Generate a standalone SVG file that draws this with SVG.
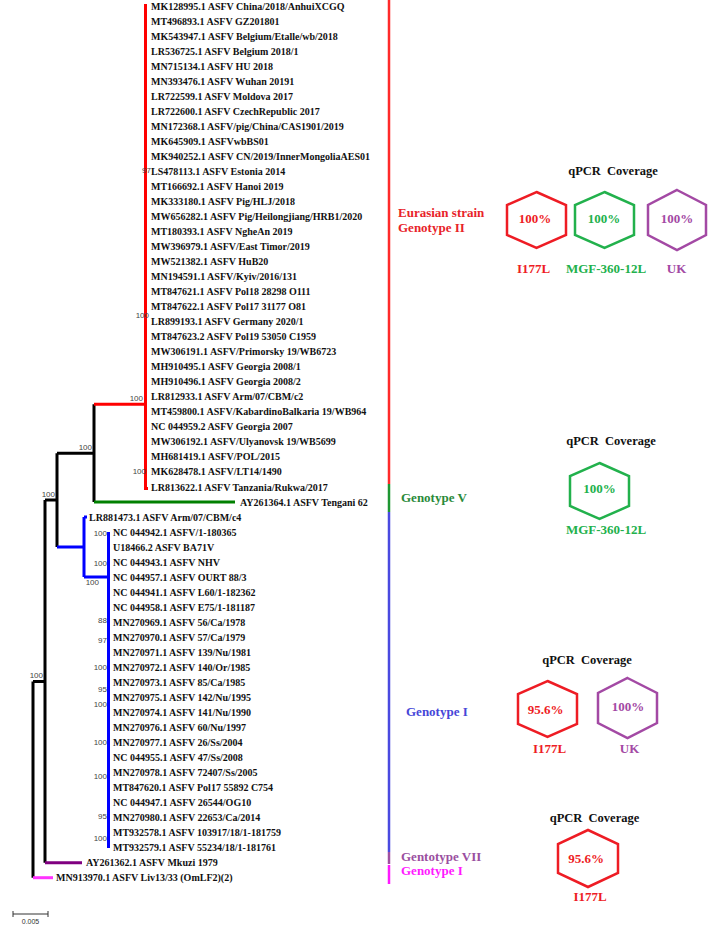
<svg xmlns="http://www.w3.org/2000/svg" width="708" height="925" viewBox="0 0 708 925">
<style>
.lf{font-family:"Liberation Serif","Times New Roman",serif;font-weight:bold;font-size:10px;fill:#111}
.bs{font-family:"Liberation Sans",Arial,sans-serif;font-size:8px;fill:#444;text-anchor:end}
.br{fill:none;stroke-width:3;stroke-linecap:butt}
.k{stroke:#000}.r{stroke:#ff0000}.g{stroke:#008000}.b{stroke:#0000ff}.p{stroke:#800080}.m{stroke:#ff33ff}
.grp{font-family:"Liberation Serif","Times New Roman",serif;font-weight:bold;font-size:13px}
.hd{font-family:"Liberation Serif","Times New Roman",serif;font-weight:bold;font-size:12.5px;fill:#111;text-anchor:middle;white-space:pre}
.pc{font-family:"Liberation Serif","Times New Roman",serif;font-weight:bold;font-size:13px;text-anchor:middle}
.hx{fill:none;stroke-width:2.5}
</style>
<rect width="708" height="925" fill="#fff"/>
<g id="connectors">
<path class="br k" d="M94,404.3V502M94,453.2H57M57,453.2V547M57,500H45M45,500V862.7M45,681.4H33M33,681.4V877.7"/>
<path class="br r" d="M94,404.3H145.5M145.5,4V488.5H148"/>
<path class="br g" d="M94,502H235"/>
<path class="br b" d="M57,547H84M84,517V577M84,517H87M84,577H108.5M108.5,532V848"/>
<path class="br p" d="M45,862.7H82"/>
<path class="br m" d="M33,877.7H53"/>
</g>
<g id="bootstrap">
<text class="bs" x="143" y="401">100</text>
<text class="bs" x="92" y="450">100</text>
<text class="bs" x="55" y="497">100</text>
<text class="bs" x="43" y="678">100</text>
<text class="bs" x="151" y="173">97</text>
<text class="bs" x="149" y="318">100</text>
<text class="bs" x="146" y="474">100</text>
<text class="bs" x="107" y="536">100</text>
<text class="bs" x="107" y="566">100</text>
<text class="bs" x="99" y="585">100</text>
<text class="bs" x="107" y="623">88</text>
<text class="bs" x="107" y="643">97</text>
<text class="bs" x="107" y="670">100</text>
<text class="bs" x="107" y="692">95</text>
<text class="bs" x="107" y="707">100</text>
<text class="bs" x="107" y="745">100</text>
<text class="bs" x="107" y="779">100</text>
<text class="bs" x="107" y="819">95</text>
<text class="bs" x="107" y="841">100</text>
</g>
<g id="leaves">
<text class="lf" x="151" y="9.5">MK128995.1 ASFV China/2018/AnhuiXCGQ</text>
<text class="lf" x="151" y="24.5">MT496893.1 ASFV GZ201801</text>
<text class="lf" x="151" y="39.6">MK543947.1 ASFV Belgium/Etalle/wb/2018</text>
<text class="lf" x="151" y="54.6">LR536725.1 ASFV Belgium 2018/1</text>
<text class="lf" x="151" y="69.6">MN715134.1 ASFV HU 2018</text>
<text class="lf" x="151" y="84.7">MN393476.1 ASFV Wuhan 20191</text>
<text class="lf" x="151" y="99.7">LR722599.1 ASFV Moldova 2017</text>
<text class="lf" x="151" y="114.7">LR722600.1 ASFV CzechRepublic 2017</text>
<text class="lf" x="151" y="129.7">MN172368.1 ASFV/pig/China/CAS1901/2019</text>
<text class="lf" x="151" y="144.8">MK645909.1 ASFVwbBS01</text>
<text class="lf" x="151" y="159.8">MK940252.1 ASFV CN/2019/InnerMongoliaAES01</text>
<text class="lf" x="151" y="174.8">LS478113.1 ASFV Estonia 2014</text>
<text class="lf" x="151" y="189.9">MT166692.1 ASFV Hanoi 2019</text>
<text class="lf" x="151" y="204.9">MK333180.1 ASFV Pig/HLJ/2018</text>
<text class="lf" x="151" y="219.9">MW656282.1 ASFV Pig/Heilongjiang/HRB1/2020</text>
<text class="lf" x="151" y="235">MT180393.1 ASFV NgheAn 2019</text>
<text class="lf" x="151" y="250">MW396979.1 ASFV/East Timor/2019</text>
<text class="lf" x="151" y="265">MW521382.1 ASFV HuB20</text>
<text class="lf" x="151" y="280">MN194591.1 ASFV/Kyiv/2016/131</text>
<text class="lf" x="151" y="295.1">MT847621.1 ASFV Pol18 28298 O111</text>
<text class="lf" x="151" y="310.1">MT847622.1 ASFV Pol17 31177 O81</text>
<text class="lf" x="151" y="325.1">LR899193.1 ASFV Germany 2020/1</text>
<text class="lf" x="151" y="340.2">MT847623.2 ASFV Pol19 53050 C1959</text>
<text class="lf" x="151" y="355.2">MW306191.1 ASFV/Primorsky 19/WB6723</text>
<text class="lf" x="151" y="370.2">MH910495.1 ASFV Georgia 2008/1</text>
<text class="lf" x="151" y="385.3">MH910496.1 ASFV Georgia 2008/2</text>
<text class="lf" x="151" y="400.3">LR812933.1 ASFV Arm/07/CBM/c2</text>
<text class="lf" x="151" y="415.3">MT459800.1 ASFV/KabardinoBalkaria 19/WB964</text>
<text class="lf" x="151" y="430.3">NC 044959.2 ASFV Georgia 2007</text>
<text class="lf" x="151" y="445.4">MW306192.1 ASFV/Ulyanovsk 19/WB5699</text>
<text class="lf" x="151" y="460.4">MH681419.1 ASFV/POL/2015</text>
<text class="lf" x="151" y="475.4">MK628478.1 ASFV/LT14/1490</text>
<text class="lf" x="151" y="490.5">LR813622.1 ASFV Tanzania/Rukwa/2017</text>
<text class="lf" x="240" y="505.5">AY261364.1 ASFV Tengani 62</text>
<text class="lf" x="89" y="520.5">LR881473.1 ASFV Arm/07/CBM/c4</text>
<text class="lf" x="113" y="535.6">NC 044942.1 ASFV/1-180365</text>
<text class="lf" x="113" y="550.6">U18466.2 ASFV BA71V</text>
<text class="lf" x="113" y="565.6">NC 044943.1 ASFV NHV</text>
<text class="lf" x="113" y="580.6">NC 044957.1 ASFV OURT 88/3</text>
<text class="lf" x="113" y="595.7">NC 044941.1 ASFV L60/1-182362</text>
<text class="lf" x="113" y="610.7">NC 044958.1 ASFV E75/1-181187</text>
<text class="lf" x="113" y="625.7">MN270969.1 ASFV 56/Ca/1978</text>
<text class="lf" x="113" y="640.8">MN270970.1 ASFV 57/Ca/1979</text>
<text class="lf" x="113" y="655.8">MN270971.1 ASFV 139/Nu/1981</text>
<text class="lf" x="113" y="670.8">MN270972.1 ASFV 140/Or/1985</text>
<text class="lf" x="113" y="685.9">MN270973.1 ASFV 85/Ca/1985</text>
<text class="lf" x="113" y="700.9">MN270975.1 ASFV 142/Nu/1995</text>
<text class="lf" x="113" y="715.9">MN270974.1 ASFV 141/Nu/1990</text>
<text class="lf" x="113" y="730.9">MN270976.1 ASFV 60/Nu/1997</text>
<text class="lf" x="113" y="746">MN270977.1 ASFV 26/Ss/2004</text>
<text class="lf" x="113" y="761">NC 044955.1 ASFV 47/Ss/2008</text>
<text class="lf" x="113" y="776">MN270978.1 ASFV 72407/Ss/2005</text>
<text class="lf" x="113" y="791.1">MT847620.1 ASFV Pol17 55892 C754</text>
<text class="lf" x="113" y="806.1">NC 044947.1 ASFV 26544/OG10</text>
<text class="lf" x="113" y="821.1">MN270980.1 ASFV 22653/Ca/2014</text>
<text class="lf" x="113" y="836.2">MT932578.1 ASFV 103917/18/1-181759</text>
<text class="lf" x="113" y="851.2">MT932579.1 ASFV 55234/18/1-181761</text>
<text class="lf" x="86" y="866.2">AY261362.1 ASFV Mkuzi 1979</text>
<text class="lf" x="56" y="881.2">MN913970.1 ASFV Liv13/33 (OmLF2)(2)</text>
</g>
<g id="scale">
<path d="M13,914H48M13,911V917M48,911V917" stroke="#333" stroke-width="1" fill="none"/>
<text x="30.5" y="924" font-family="Liberation Sans, Arial, sans-serif" font-size="7" fill="#333" text-anchor="middle">0.005</text>
</g>
<g id="brackets">
<path d="M389,0V484" stroke="#ff2a2a" stroke-width="2.5"/>
<path d="M389,484V512" stroke="#1e9632" stroke-width="2.5"/>
<path d="M389,512V852" stroke="#4a4ae0" stroke-width="2.5"/>
<path d="M389,852V864" stroke="#a050a0" stroke-width="2.5"/>
<path d="M389,865V884" stroke="#ff1aff" stroke-width="2.5"/>
</g>
<g id="group-genotype-II">
<text class="grp" x="398" y="216.5" fill="#e8232a">Eurasian strain</text>
<text class="grp" x="398" y="232" fill="#e8232a">Genotype II</text>
</g>
<g id="group-genotype-V"><text class="grp" x="401" y="502" fill="#2a8a3a">Genotype V</text></g>
<g id="group-genotype-I"><text class="grp" x="406" y="716" fill="#4646d8">Genotype I</text></g>
<g id="group-genotype-VII"><text class="grp" x="401" y="861" fill="#9b4f9f">Gentotype VII</text></g>
<g id="group-genotype-I-b"><text class="grp" x="401" y="875" fill="#ff1aff">Genotype I</text></g>
<g id="panel1">
<text class="hd" x="613" y="175">qPCR  Coverage</text>
<polygon class="hx" stroke="#ee1c24" points="536.5,192 566,205 566,235 536.5,248 507,235 507,205"/>
<text class="pc" x="535" y="222.5" fill="#ee1c24">100%</text>
<text class="pc" x="533.5" y="272.5" fill="#ee1c24">I177L</text>
<polygon class="hx" stroke="#22b14c" points="604.5,192 634,205 634,235 604.5,248 575,235 575,205"/>
<text class="pc" x="604" y="222.5" fill="#22b14c">100%</text>
<text class="pc" x="606" y="272.5" fill="#22b14c">MGF-360-12L</text>
<polygon class="hx" stroke="#a349a4" points="677,190 706,205 706,235 677,250 648,235 648,205"/>
<text class="pc" x="677" y="222.5" fill="#a349a4">100%</text>
<text class="pc" x="676.5" y="272.5" fill="#a349a4">UK</text>
</g>
<g id="panel2">
<text class="hd" x="611" y="445">qPCR  Coverage</text>
<polygon class="hx" stroke="#22b14c" points="599.5,463 629,476 629,506 599.5,519 570,506 570,476"/>
<text class="pc" x="599.5" y="493" fill="#22b14c">100%</text>
<text class="pc" x="606" y="534" fill="#22b14c">MGF-360-12L</text>
</g>
<g id="panel3">
<text class="hd" x="587" y="664">qPCR  Coverage</text>
<polygon class="hx" stroke="#ee1c24" points="547.5,681 577,694 577,724 547.5,737 518,724 518,694"/>
<text class="pc" x="545.5" y="713.5" fill="#ee1c24">95.6%</text>
<text class="pc" x="549.5" y="752.5" fill="#ee1c24">I177L</text>
<polygon class="hx" stroke="#a349a4" points="627.5,678 657,693 657,723 627.5,738 598,723 598,693"/>
<text class="pc" x="628" y="711" fill="#a349a4">100%</text>
<text class="pc" x="629.5" y="752.5" fill="#a349a4">UK</text>
</g>
<g id="panel4">
<text class="hd" x="594.5" y="822">qPCR  Coverage</text>
<polygon class="hx" stroke="#ee1c24" points="588,830 618,844 618,873 588,887 558,873 558,844"/>
<text class="pc" x="586" y="862.5" fill="#ee1c24">95.6%</text>
<text class="pc" x="590" y="901" fill="#ee1c24">I177L</text>
</g>
</svg>
